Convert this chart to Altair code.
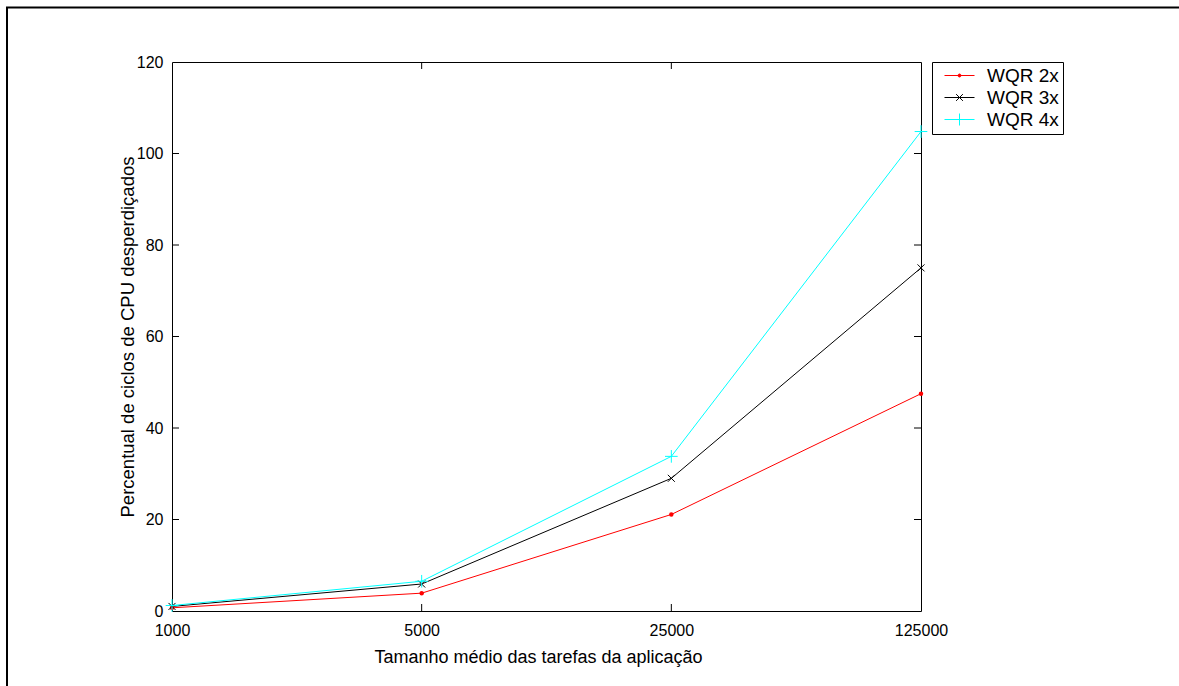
import altair as alt
import pandas as pd

# ---- data ----
sizes = [1000, 5000, 25000, 125000]
series_names = ["WQR 2x", "WQR 3x", "WQR 4x"]
wqr2 = [0.7, 3.9, 21.1, 47.5]
wqr3 = [1.0, 5.9, 29.0, 75.0]
wqr4 = [1.2, 6.5, 33.8, 104.8]
colors = ["#ff0000", "#000000", "#00ffff"]
y_tick_values = [0, 20, 40, 60, 80, 100, 120]
y_inner_ticks = [20, 40, 60, 80, 100]
x_inner_ticks = [5000, 25000]

rows = []
for name, vals in zip(series_names, [wqr2, wqr3, wqr4]):
    for s, v in zip(sizes, vals):
        rows.append({"tamanho": s, "pct": v, "serie": name})
df = pd.DataFrame(rows)

FONT = "Liberation Sans, Arial, sans-serif"
W, H = 749, 549
TICK = 7

x_scale = alt.Scale(type="log", base=5, domain=[1000, 125000], nice=False)
y_scale = alt.Scale(domain=[0, 120], nice=False, zero=True)
color_scale = alt.Scale(domain=series_names, range=colors)

# legend symbol paths: line sample + marker (unit = 7.5 px with symbolSize 225)
leg_paths = [
    "M-2,0H2M-0.2,0A0.2,0.2 0 1,0 0.2,0A0.2,0.2 0 1,0 -0.2,0",
    "M-2,0H2M-0.45,-0.45L0.45,0.45M-0.45,0.45L0.45,-0.45",
    "M-2,0H2M0,-0.8V0.8",
]
shape_scale = alt.Scale(domain=series_names, range=leg_paths)

legend_def = alt.Legend(
    title=None, orient="none", legendX=760, legendY=0,
    symbolSize=225, symbolStrokeWidth=1, symbolOffset=14, symbolOpacity=1,
    labelFont=FONT, labelFontSize=19, labelColor="black", labelOffset=18,
    padding=4, rowPadding=2, strokeColor="black", fillColor="white",
)

x_axis = alt.Axis(
    values=sizes, format="d", title="Tamanho médio das tarefas da aplicação",
    grid=False, domain=False, ticks=False,
    labelFont=FONT, labelFontSize=16, labelColor="black",
    labelBaseline="alphabetic", labelPadding=24, labelFlush=False, labelOverlap=False,
    titleFont=FONT, titleFontSize=18, titleFontWeight="normal", titleColor="black",
    titleBaseline="alphabetic", titleY=51, titleX=366,
)
y_axis = alt.Axis(
    values=y_tick_values, title="Percentual de ciclos de CPU desperdiçados",
    grid=False, domain=False, ticks=False,
    labelFont=FONT, labelFontSize=16, labelColor="black", labelPadding=9,
    labelFlush=False, labelOverlap=False,
    titleFont=FONT, titleFontSize=18.5, titleFontWeight="normal", titleColor="black",
    titleBaseline="alphabetic", titleX=-39, titleAngle=270,
)

X = alt.X("tamanho:Q", scale=x_scale, axis=x_axis)
Y = alt.Y("pct:Q", scale=y_scale, axis=y_axis)
C = alt.Color("serie:N", scale=color_scale, legend=legend_def)

base = alt.Chart(df)

lines = base.mark_line(strokeWidth=1, clip=False).encode(x=X, y=Y, color=C)

marker_specs = {
    "WQR 2x": dict(shape="circle", size=20, filled=True),
    "WQR 3x": dict(shape="M-1,-1L1,1M-1,1L1,-1", size=49, filled=False),
    "WQR 4x": dict(shape="M-1,0H1M0,-1V1", size=160, filled=False),
}
point_layers = []
for name in series_names:
    spec = marker_specs[name]
    point_layers.append(
        base.transform_filter(alt.datum.serie == name)
        .mark_point(strokeWidth=1, opacity=1, clip=False, **spec)
        .encode(x=X, y=Y, color=C)
    )

legend_layer = base.transform_filter("datum.pct < -1000").mark_point(
    filled=False, strokeWidth=1, opacity=1
).encode(
    x=X, y=Y, color=C,
    shape=alt.Shape("serie:N", scale=shape_scale, legend=legend_def),
)

ydf = pd.DataFrame({"pct": y_inner_ticks})
xdf = pd.DataFrame({"tamanho": x_inner_ticks})
ytick_l = alt.Chart(ydf).mark_rule(color="black", strokeWidth=1).encode(
    y=Y, x=alt.value(0), x2=alt.value(TICK))
ytick_r = alt.Chart(ydf).mark_rule(color="black", strokeWidth=1).encode(
    y=Y, x=alt.value(W - TICK), x2=alt.value(W))
xtick_b = alt.Chart(xdf).mark_rule(color="black", strokeWidth=1).encode(
    x=X, y=alt.value(H - TICK), y2=alt.value(H))
xtick_t = alt.Chart(xdf).mark_rule(color="black", strokeWidth=1).encode(
    x=X, y=alt.value(0), y2=alt.value(TICK))

frame = alt.Chart(pd.DataFrame({"a": [0]})).mark_rect(
    fillOpacity=0, stroke="black", strokeWidth=2, clip=False
).encode(x=alt.value(-165), x2=alt.value(1200), y=alt.value(-54.5), y2=alt.value(800))

chart = alt.layer(
    lines, *point_layers, legend_layer, ytick_l, ytick_r, xtick_b, xtick_t, frame
).properties(
    width=W, height=H,
    autosize=alt.AutoSizeParams(type="none"),
    padding={"left": 172, "top": 62, "right": 258, "bottom": 75},
    background="white",
).configure_view(stroke="black", strokeWidth=1)

chart.save("out.html", embed_options={"renderer": "svg", "actions": False})
